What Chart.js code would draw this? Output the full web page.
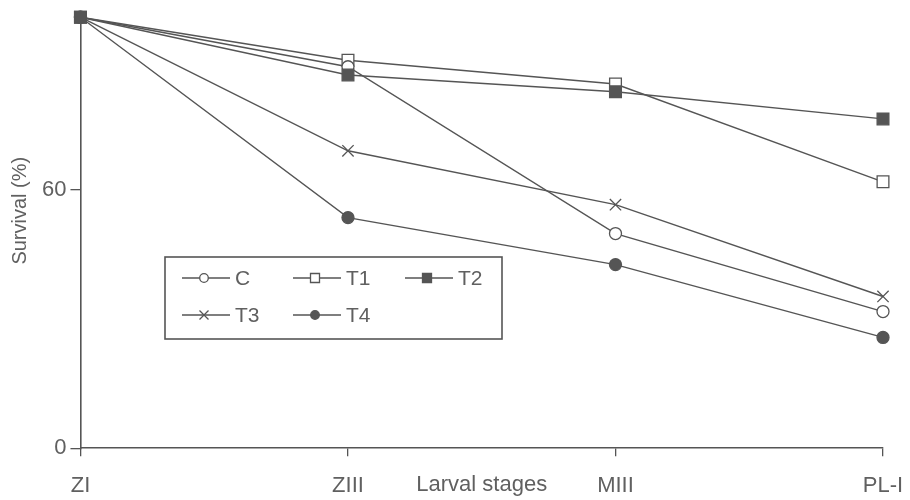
<!DOCTYPE html>
<html>
<head>
<meta charset="utf-8">
<script src="https://cdn.jsdelivr.net/npm/chart.js@4.4.1/dist/chart.umd.min.js"></script>
<style>
  html, body { margin: 0; padding: 0; background: #fff; }
  #wrap { width: 910px; height: 500px; }
</style>
</head>
<body>
<div id="wrap"><canvas id="chart"></canvas></div>
<script>
const stages = ['ZI', 'ZIII', 'MIII', 'PL-I'];
const seriesC = [100, 88.5, 49.8, 31.7];
const seriesT1 = [100, 90, 84.5, 61.8];
const seriesT2 = [100, 86.6, 82.7, 76.4];
const seriesT3 = [100, 69, 56.5, 35.2];
const seriesT4 = [100, 53.5, 42.6, 25.7];
const yTicks = [0, 60];

const INK = '#555';
const TEXT = '#606060';
const SANS = '"Liberation Sans", Arial, sans-serif';

function series(label, data, pointStyle, filled, radius, order) {
  return {
    label,
    data,
    pointStyle,
    order,
    borderColor: INK,
    borderWidth: 1.4,
    backgroundColor: filled ? INK : '#fff',
    pointBorderColor: INK,
    pointBackgroundColor: filled ? INK : '#fff',
    pointBorderWidth: 1.3,
    pointRadius: radius,
    tension: 0,
    clip: false,
  };
}

// legend drawn inside the plot: short line with the marker on it, then the label
function drawMarker(ctx, style, x, y, filled) {
  ctx.save();
  ctx.strokeStyle = INK;
  ctx.fillStyle = filled ? INK : '#fff';
  ctx.lineWidth = 1.3;
  ctx.beginPath();
  if (style === 'circle') {
    ctx.arc(x, y, 4.3, 0, Math.PI * 2);
    ctx.fill();
    ctx.stroke();
  } else if (style === 'rect') {
    ctx.rect(x - 4.5, y - 4.5, 9, 9);
    ctx.fill();
    ctx.stroke();
  } else {
    ctx.moveTo(x - 4.5, y - 4.5); ctx.lineTo(x + 4.5, y + 4.5);
    ctx.moveTo(x + 4.5, y - 4.5); ctx.lineTo(x - 4.5, y + 4.5);
    ctx.stroke();
  }
  ctx.restore();
}

const boxLegend = {
  id: 'boxLegend',
  afterDatasetsDraw(chart) {
    const ctx = chart.ctx;
    const left = 165, top = 257, w = 337, h = 82;
    const slots = [[182, 278], [293, 278], [405, 278], [182, 315], [293, 315]];
    ctx.save();
    ctx.fillStyle = '#fff';
    ctx.fillRect(left, top, w, h);
    ctx.strokeStyle = INK;
    ctx.lineWidth = 1.6;
    ctx.strokeRect(left, top, w, h);
    ctx.font = '21px ' + SANS;
    ctx.textBaseline = 'middle';
    ['C', 'T1', 'T2', 'T3', 'T4'].forEach((name, i) => {
      const ds = chart.data.datasets.find(d => d.label === name);
      const [x, y] = slots[i];
      ctx.strokeStyle = INK;
      ctx.lineWidth = 1.4;
      ctx.beginPath();
      ctx.moveTo(x, y);
      ctx.lineTo(x + 48, y);
      ctx.stroke();
      drawMarker(ctx, ds.pointStyle, x + 22, y, ds.pointBackgroundColor !== '#fff');
      ctx.fillStyle = TEXT;
      ctx.fillText(name, x + 53, y + 1);
    });
    ctx.restore();
  }
};

new Chart(document.getElementById('chart'), {
  type: 'line',
  data: {
    labels: stages,
    datasets: [
      series('C', seriesC, 'circle', false, 6, 1),
      series('T1', seriesT1, 'rect', false, 8.3, 1),
      series('T2', seriesT2, 'rect', true, 8.3, -1),
      series('T3', seriesT3, 'crossRot', false, 8, 1),
      series('T4', seriesT4, 'circle', true, 6, 0),
    ],
  },
  options: {
    responsive: true,
    maintainAspectRatio: false,
    animation: false,
    layout: { padding: { top: 17, right: 27, left: 8, bottom: 0 } },
    plugins: {
      legend: { display: false },
      tooltip: { enabled: false },
    },
    scales: {
      x: {
        offset: false,
        afterFit(scale) {
          // let the last label hang into the layout padding
          scale.paddingLeft = 0;
          scale.paddingRight = 0;
        },
        grid: { drawOnChartArea: false, drawTicks: true, tickLength: 8, color: INK, lineWidth: 1.3 },
        border: { display: true, color: INK, width: 1.6 },
        ticks: { color: TEXT, font: { family: SANS, size: 22 }, padding: 17, maxRotation: 0 },
        title: {
          display: true,
          text: 'Larval stages',
          color: TEXT,
          font: { family: SANS, size: 22 },
          padding: { top: -45, bottom: 2 },
        },
      },
      y: {
        min: 0,
        max: 100,
        afterBuildTicks(scale) {
          scale.ticks = yTicks.map(v => ({ value: v }));
        },
        afterFit(scale) {
          // the original title sits a bit above the middle of the axis
          if (scale._titleShifted) return;
          scale._titleShifted = true;
          const drawTitle = scale.drawTitle;
          scale.drawTitle = function () {
            this.ctx.save();
            this.ctx.translate(0, -22);
            drawTitle.call(this);
            this.ctx.restore();
          };
        },
        grid: { drawOnChartArea: false, drawTicks: true, tickLength: 10, color: INK, lineWidth: 1.3 },
        border: { display: true, color: INK, width: 1.6 },
        ticks: { color: TEXT, font: { family: SANS, size: 22 }, padding: 4 },
        title: {
          display: true,
          text: 'Survival (%)',
          color: TEXT,
          font: { family: SANS, size: 20 },
          padding: { top: 0, bottom: 6 },
        },
      },
    },
  },
  plugins: [boxLegend],
});
</script>
</body>
</html>
